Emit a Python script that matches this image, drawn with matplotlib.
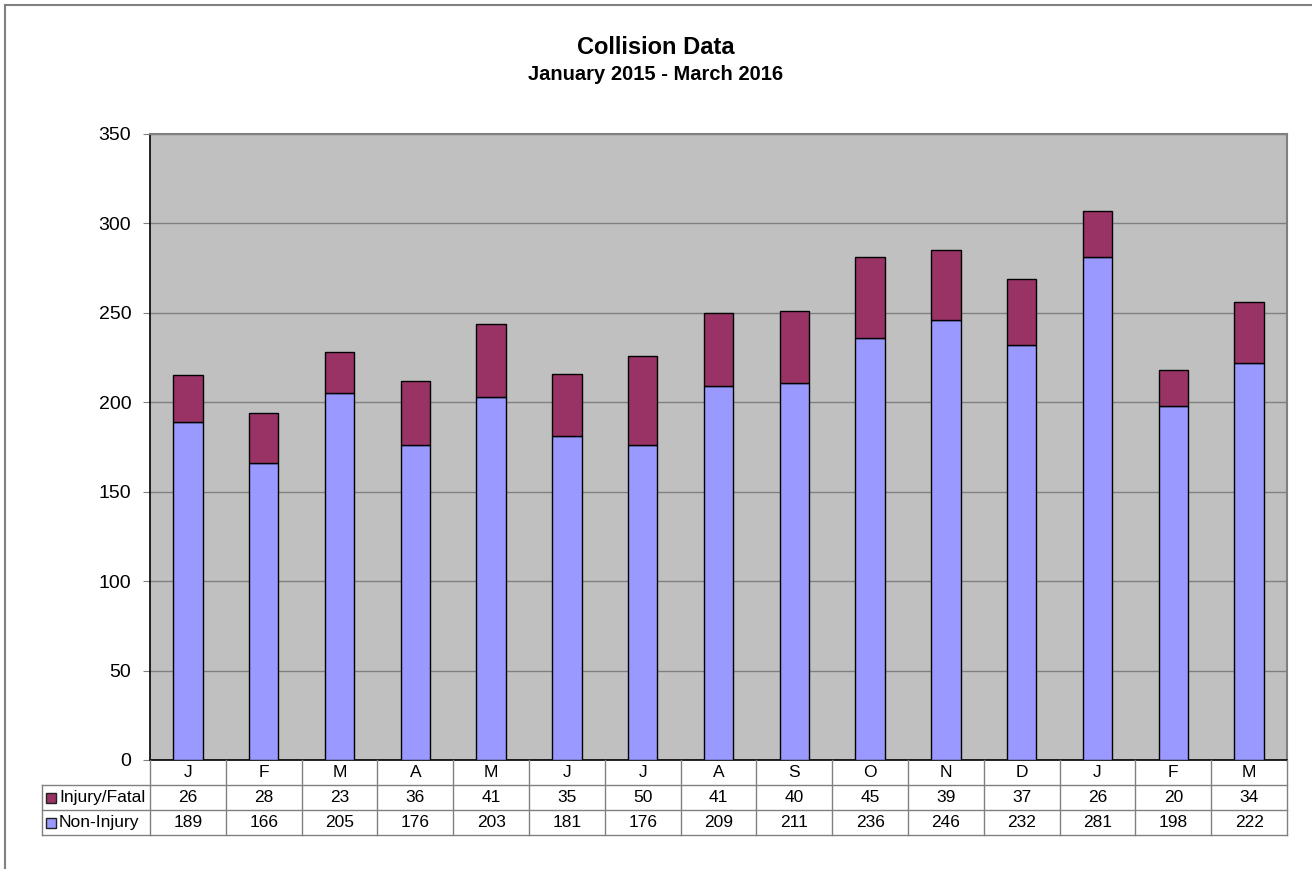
import matplotlib
matplotlib.use("Agg")
import matplotlib.pyplot as plt
import matplotlib.transforms as mtransforms
from matplotlib.patches import Rectangle
from matplotlib.lines import Line2D

months = ["J", "F", "M", "A", "M", "J", "J", "A", "S", "O", "N", "D", "J", "F", "M"]
injury_fatal = [26, 28, 23, 36, 41, 35, 50, 41, 40, 45, 39, 37, 26, 20, 34]
non_injury = [189, 166, 205, 176, 203, 181, 176, 209, 211, 236, 246, 232, 281, 198, 222]
yticks = [0, 50, 100, 150, 200, 250, 300, 350]

plt.rcParams['font.family'] = ['Liberation Sans', 'DejaVu Sans']

W, H = 1312, 869
fig = plt.figure(figsize=(W / 100, H / 100), dpi=100)

def fx(px):
    return px / W

def fy(py):
    return 1 - py / H

# outer border
fig.add_artist(Line2D([fx(5), fx(1312)], [fy(5), fy(5)], color="#808080", lw=1.5, transform=fig.transFigure))
fig.add_artist(Line2D([fx(5), fx(5)], [fy(5), fy(869)], color="#808080", lw=1.5, transform=fig.transFigure))

left, right, top, bottom = 150, 1287, 134, 760
ax = fig.add_axes([fx(left), fy(bottom), fx(right - left), (bottom - top) / H])
ax.set_facecolor("#C0C0C0")

x = list(range(len(months)))
c_non = "#9999FF"
c_inj = "#993366"
ax.bar(x, non_injury, width=0.39, color=c_non, edgecolor="black", linewidth=1.0, zorder=3)
ax.bar(x, injury_fatal, width=0.39, bottom=non_injury, color=c_inj, edgecolor="black", linewidth=1.0, zorder=3)

ax.set_xlim(-0.5, len(months) - 0.5)
ax.set_ylim(0, 350)
ax.set_yticks(yticks)
ax.set_yticklabels([str(v) for v in yticks], fontsize=14)
ax.set_xticks([])
ax.yaxis.grid(True, color="#808080", linewidth=1.0, zorder=0)
ax.set_axisbelow(True)
ax.tick_params(axis="y", length=5, color="#808080", pad=8.5)
ax.spines["left"].set_color("black")
ax.spines["left"].set_linewidth(1.2)
ax.spines["bottom"].set_color("black")
ax.spines["bottom"].set_linewidth(1.2)
ax.spines["top"].set_color("#808080")
ax.spines["top"].set_linewidth(1.5)
ax.spines["right"].set_color("#808080")
ax.spines["right"].set_linewidth(1.5)

# titles
fig.text(0.5, fy(48), "Collision Data", ha="center", va="center", fontsize=17, fontweight="bold")
fig.text(0.5, fy(75), "January 2015 - March 2016", ha="center", va="center", fontsize=14.5, fontweight="bold")

# data table
trans = mtransforms.blended_transform_factory(ax.transData, fig.transFigure)
lc = "#808080"
rows_y = [760, 785, 810, 835]
n = len(months)
for i in range(n + 1):
    fig.add_artist(Line2D([i - 0.5, i - 0.5], [fy(760), fy(835)], color=lc, lw=1.0, transform=trans))
for yy in rows_y[1:]:
    fig.add_artist(Line2D([fx(42), fx(right)], [fy(yy), fy(yy)], color=lc, lw=1.0, transform=fig.transFigure))
fig.add_artist(Line2D([fx(42), fx(42)], [fy(785), fy(835)], color=lc, lw=1.0, transform=fig.transFigure))

for i in range(n):
    fig.text(i, fy(772.5), months[i], transform=trans, ha="center", va="center", fontsize=12.5)
    fig.text(i, fy(797.5), str(injury_fatal[i]), transform=trans, ha="center", va="center", fontsize=12.5)
    fig.text(i, fy(822.5), str(non_injury[i]), transform=trans, ha="center", va="center", fontsize=12.5)

for yy, label, col in [(797.5, "Injury/Fatal", c_inj), (822.5, "Non-Injury", c_non)]:
    fig.add_artist(Rectangle((fx(46), fy(yy + 5)), fx(10), 10 / H, facecolor=col, edgecolor="#222222",
                             lw=1.0, transform=fig.transFigure))
    fig.text(fx(59), fy(yy), label, ha="left", va="center", fontsize=12.5)

fig.savefig("out.png", dpi=100)
